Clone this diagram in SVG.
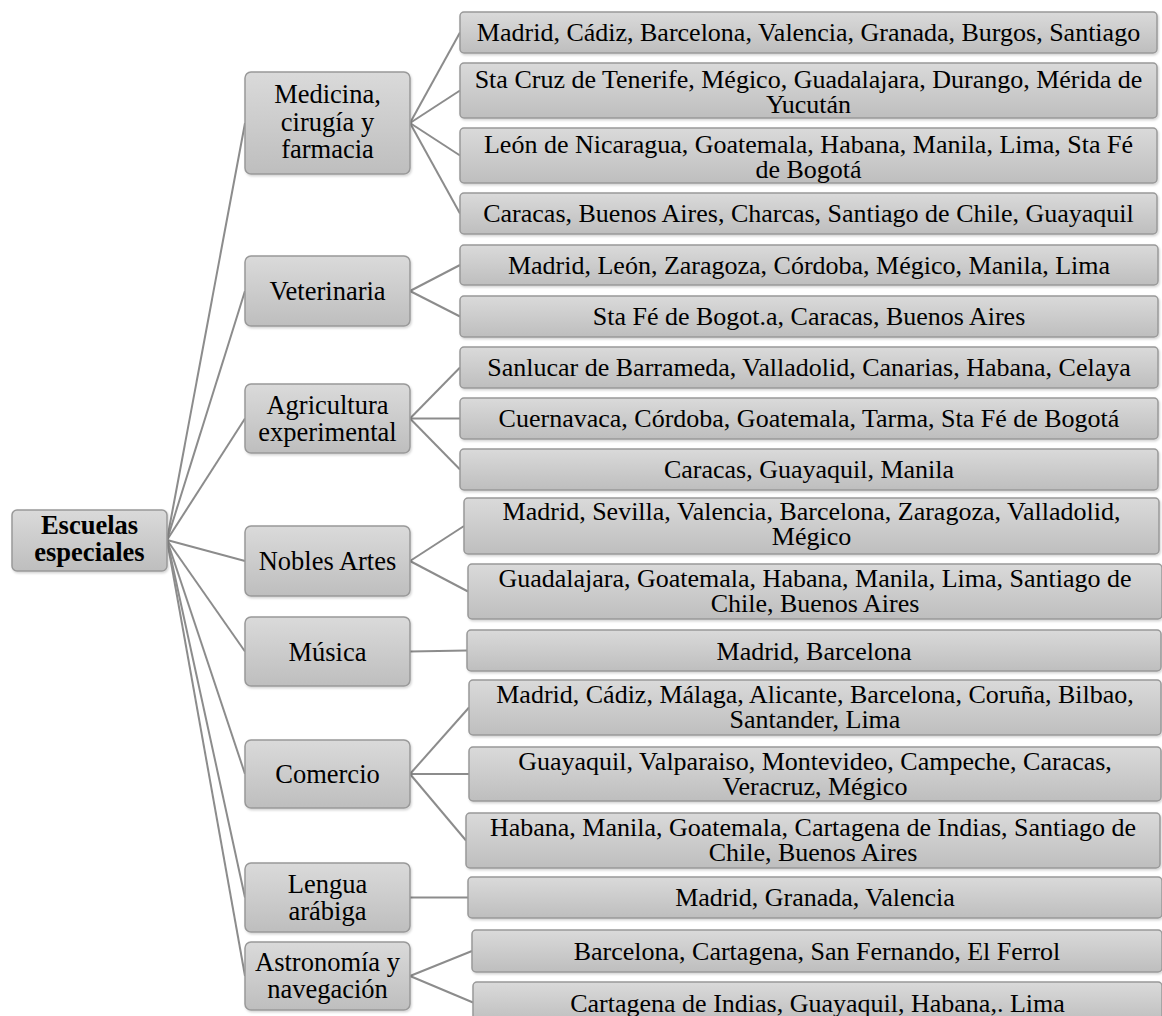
<svg xmlns="http://www.w3.org/2000/svg" width="1162" height="1016" viewBox="0 0 1162 1016">
<defs>
<linearGradient id="g" x1="0" y1="0" x2="0" y2="1">
<stop offset="0" stop-color="#dadada"/>
<stop offset="1" stop-color="#bebebe"/>
</linearGradient>
<filter id="sh" x="-5%" y="-10%" width="110%" height="130%">
<feDropShadow dx="1" dy="1.5" stdDeviation="1" flood-color="#000" flood-opacity="0.18"/>
</filter>
</defs>
<style>
.box{fill:url(#g);stroke:#999;stroke-width:1.5;filter:url(#sh)}
text{font-family:"Liberation Serif","Times New Roman",serif;font-size:26.5px;fill:#000;text-anchor:middle}
.l text{font-size:26px}
.b{font-weight:bold}
.con line{stroke:#8c8c8c;stroke-width:2}
</style>
<rect width="1162" height="1016" fill="#fff"/>
<g class="con" id="connectors">
<line x1="167" y1="540" x2="245" y2="123"/>
<line x1="167" y1="540" x2="245" y2="291"/>
<line x1="167" y1="540" x2="245" y2="418.5"/>
<line x1="167" y1="540" x2="245" y2="561"/>
<line x1="167" y1="540" x2="245" y2="651.5"/>
<line x1="167" y1="540" x2="245" y2="774"/>
<line x1="167" y1="540" x2="245" y2="897.5"/>
<line x1="167" y1="540" x2="245" y2="976"/>
<line x1="410" y1="123" x2="460" y2="32.5"/>
<line x1="410" y1="123" x2="460" y2="90.5"/>
<line x1="410" y1="123" x2="460" y2="155.5"/>
<line x1="410" y1="123" x2="460" y2="213.5"/>
<line x1="410" y1="291" x2="460" y2="265"/>
<line x1="410" y1="291" x2="460" y2="316.5"/>
<line x1="410" y1="418.5" x2="460" y2="367.5"/>
<line x1="410" y1="418.5" x2="460" y2="418.5"/>
<line x1="410" y1="418.5" x2="460" y2="469.5"/>
<line x1="410" y1="561" x2="464" y2="526"/>
<line x1="410" y1="561" x2="468" y2="591.5"/>
<line x1="410" y1="651.5" x2="467" y2="650.5"/>
<line x1="410" y1="774" x2="469" y2="707.5"/>
<line x1="410" y1="774" x2="469" y2="774"/>
<line x1="410" y1="774" x2="466" y2="840.5"/>
<line x1="410" y1="897.5" x2="468" y2="897.5"/>
<line x1="410" y1="976" x2="472" y2="951"/>
<line x1="410" y1="976" x2="473" y2="1002.5"/>
</g>
<g id="root"><rect class="box" x="12" y="510" width="155" height="61" rx="5"/><text class="b" x="89.5" y="534">Escuelas</text><text class="b" x="89.5" y="561">especiales</text></g>
<g id="medicina"><rect class="box" x="245" y="72" width="165" height="102" rx="6"/><text x="327.5" y="103">Medicina,</text><text x="327.5" y="131">cirugía y</text><text x="327.5" y="158">farmacia</text></g>
<g id="veterinaria"><rect class="box" x="245" y="256" width="165" height="70" rx="6"/><text x="327.5" y="300">Veterinaria</text></g>
<g id="agricultura"><rect class="box" x="245" y="384" width="165" height="69" rx="6"/><text x="327.5" y="414">Agricultura</text><text x="327.5" y="441">experimental</text></g>
<g id="nobles"><rect class="box" x="245" y="526" width="165" height="70" rx="6"/><text x="327.5" y="570">Nobles Artes</text></g>
<g id="musica"><rect class="box" x="245" y="617" width="165" height="69" rx="6"/><text x="327.5" y="661">Música</text></g>
<g id="comercio"><rect class="box" x="245" y="740" width="165" height="68" rx="6"/><text x="327.5" y="783">Comercio</text></g>
<g id="lengua"><rect class="box" x="245" y="863" width="165" height="69" rx="6"/><text x="327.5" y="893">Lengua</text><text x="327.5" y="920">arábiga</text></g>
<g id="astronomia"><rect class="box" x="245" y="942" width="165" height="68" rx="6"/><text x="327.5" y="971">Astronomía y</text><text x="327.5" y="998">navegación</text></g>
<g class="l">
<g id="med1"><rect class="box" x="460" y="12" width="697" height="41" rx="4"/><text x="808.5" y="41">Madrid, Cádiz, Barcelona, Valencia, Granada, Burgos, Santiago</text></g>
<g id="med2"><rect class="box" x="460" y="63" width="697" height="55" rx="4"/><text x="808.5" y="87.5">Sta Cruz de Tenerife, Mégico, Guadalajara, Durango, Mérida de</text><text x="808.5" y="112.5">Yucután</text></g>
<g id="med3"><rect class="box" x="460" y="128" width="697" height="55" rx="4"/><text x="808.5" y="152.5">León de Nicaragua, Goatemala, Habana, Manila, Lima, Sta Fé</text><text x="808.5" y="177.5">de Bogotá</text></g>
<g id="med4"><rect class="box" x="460" y="193" width="697" height="41" rx="4"/><text x="808.5" y="222">Caracas, Buenos Aires, Charcas, Santiago de Chile, Guayaquil</text></g>
<g id="vet1"><rect class="box" x="460" y="245" width="698" height="40" rx="4"/><text x="809" y="274">Madrid, León, Zaragoza, Córdoba, Mégico, Manila, Lima</text></g>
<g id="vet2"><rect class="box" x="460" y="296" width="698" height="41" rx="4"/><text x="809" y="325">Sta Fé de Bogot.a, Caracas, Buenos Aires</text></g>
<g id="agr1"><rect class="box" x="460" y="347" width="698" height="41" rx="4"/><text x="809" y="376">Sanlucar de Barrameda, Valladolid, Canarias, Habana, Celaya</text></g>
<g id="agr2"><rect class="box" x="460" y="398" width="698" height="41" rx="4"/><text x="809" y="427">Cuernavaca, Córdoba, Goatemala, Tarma, Sta Fé de Bogotá</text></g>
<g id="agr3"><rect class="box" x="460" y="449" width="698" height="41" rx="4"/><text x="809" y="478">Caracas, Guayaquil, Manila</text></g>
<g id="nob1"><rect class="box" x="464" y="498" width="695" height="56" rx="4"/><text x="811.5" y="520">Madrid, Sevilla, Valencia, Barcelona, Zaragoza, Valladolid,</text><text x="811.5" y="545">Mégico</text></g>
<g id="nob2"><rect class="box" x="468" y="564" width="694" height="55" rx="4"/><text x="815" y="587">Guadalajara, Goatemala, Habana, Manila, Lima, Santiago de</text><text x="815" y="612">Chile, Buenos Aires</text></g>
<g id="mus1"><rect class="box" x="467" y="630" width="694" height="41" rx="4"/><text x="814" y="660">Madrid, Barcelona</text></g>
<g id="com1"><rect class="box" x="469" y="680" width="692" height="55" rx="4"/><text x="815" y="703">Madrid, Cádiz, Málaga, Alicante, Barcelona, Coruña, Bilbao,</text><text x="815" y="728">Santander, Lima</text></g>
<g id="com2"><rect class="box" x="469" y="747" width="692" height="54" rx="4"/><text x="815" y="770">Guayaquil, Valparaiso, Montevideo, Campeche, Caracas,</text><text x="815" y="795">Veracruz, Mégico</text></g>
<g id="com3"><rect class="box" x="466" y="813" width="694" height="55" rx="4"/><text x="813" y="836">Habana, Manila, Goatemala, Cartagena de Indias, Santiago de</text><text x="813" y="861">Chile, Buenos Aires</text></g>
<g id="len1"><rect class="box" x="468" y="877" width="694" height="41" rx="4"/><text x="815" y="906">Madrid, Granada, Valencia</text></g>
<g id="ast1"><rect class="box" x="472" y="930" width="690" height="42" rx="4"/><text x="817" y="960">Barcelona, Cartagena, San Fernando, El Ferrol</text></g>
<g id="ast2"><rect class="box" x="473" y="982" width="689" height="41" rx="4"/><text x="817.5" y="1012">Cartagena de Indias, Guayaquil, Habana,. Lima</text></g>
</g>
</svg>
